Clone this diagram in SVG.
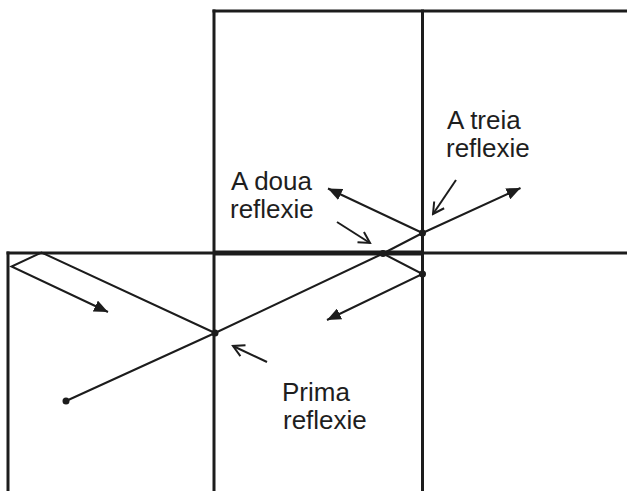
<svg xmlns="http://www.w3.org/2000/svg" width="627" height="491" viewBox="0 0 627 491">
  <style>
    .frame { stroke: #1c1c1c; stroke-width: 3; fill: none; stroke-linecap: square; }
    .ray { stroke: #1c1c1c; stroke-width: 2; fill: none; stroke-linejoin: miter; }
    .ind { stroke: #1c1c1c; stroke-width: 2; fill: none; }
    .dot { fill: #1c1c1c; }
    .lbl { font-family: "Liberation Sans", Arial, sans-serif; font-size: 26px; fill: #1e1e1e; }
  </style>
  <defs>
    <marker id="solid" markerUnits="userSpaceOnUse" viewBox="0 0 14 12" refX="14" refY="6" markerWidth="14" markerHeight="12" orient="auto">
      <path d="M0,0 L14,6 L0,12 Z" fill="#1c1c1c"/>
    </marker>
    <marker id="open" markerUnits="userSpaceOnUse" viewBox="-2 -2 15 16" refX="11" refY="6" markerWidth="15" markerHeight="16" orient="auto">
      <path d="M0,0 L11,6 L0,12" fill="none" stroke="#1c1c1c" stroke-width="2"/>
    </marker>
  </defs>
  <rect width="627" height="491" fill="#ffffff"/>

  <g id="mirrors">
    <line class="frame" x1="214" y1="11" x2="627" y2="11"/>
    <line class="frame" x1="214" y1="11" x2="214" y2="491"/>
    <line class="frame" x1="422.5" y1="11" x2="422.5" y2="491"/>
    <line class="frame" x1="8" y1="253" x2="627" y2="253"/>
    <line class="frame" x1="8" y1="253" x2="8" y2="491"/>
    <line x1="214" y1="253" x2="422.5" y2="253" stroke="#1c1c1c" stroke-width="5"/>
  </g>

  <g id="connectors">
    <polyline id="unfolded-ray" class="ray" points="66,401 215,333 383,253.5 422.5,233 520.5,188" marker-end="url(#solid)"/>
    <polyline id="reflection-1" class="ray" points="215,333 41.5,252.5 11.5,266.5 108,312" marker-end="url(#solid)"/>
    <polyline id="reflection-2" class="ray" points="383,253.5 422.5,274 327,320" marker-end="url(#solid)"/>
    <line id="reflection-3" class="ray" x1="422.5" y1="233" x2="328" y2="188.5" marker-end="url(#solid)"/>
    <line id="pointer-1" class="ind" x1="267" y1="362" x2="233" y2="346" marker-end="url(#open)"/>
    <line id="pointer-2" class="ind" x1="337" y1="222" x2="370" y2="243" marker-end="url(#open)"/>
    <line id="pointer-3" class="ind" x1="456" y1="180" x2="433" y2="214" marker-end="url(#open)"/>
  </g>

  <g id="points">
    <circle class="dot" cx="66" cy="401" r="3.5"/>
    <circle class="dot" cx="215" cy="333" r="3.5"/>
    <circle class="dot" cx="383" cy="253.5" r="3.5"/>
    <circle class="dot" cx="422.5" cy="233" r="3.5"/>
    <circle class="dot" cx="422.5" cy="274" r="3.5"/>
  </g>

  <g id="label-treia">
    <text class="lbl" x="447" y="129">A treia</text>
    <text class="lbl" x="446" y="157">reflexie</text>
  </g>
  <g id="label-doua">
    <text class="lbl" x="231" y="190">A doua</text>
    <text class="lbl" x="230" y="218">reflexie</text>
  </g>
  <g id="label-prima">
    <text class="lbl" x="282" y="401">Prima</text>
    <text class="lbl" x="283" y="429">reflexie</text>
  </g>
</svg>
